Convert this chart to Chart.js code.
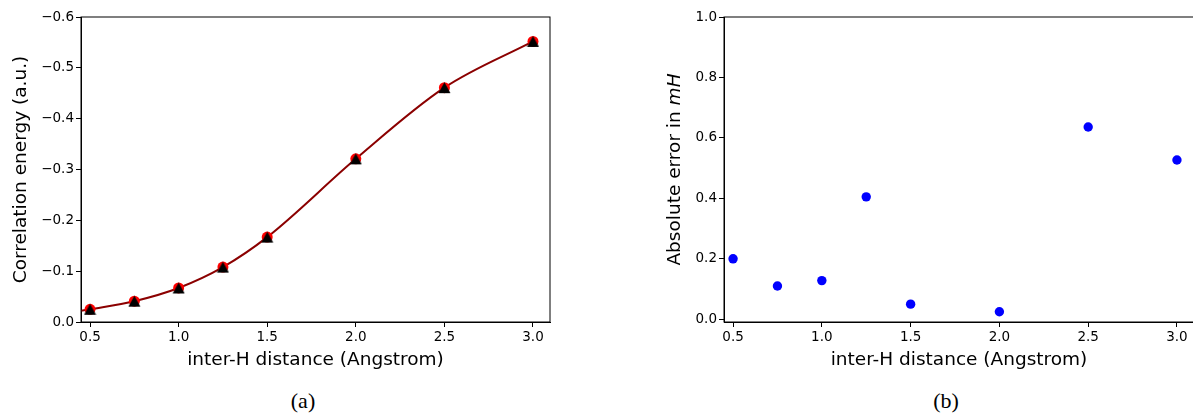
<!DOCTYPE html>
<html>
<head>
<meta charset="utf-8">
<script src="https://cdn.jsdelivr.net/npm/chart.js@4/dist/chart.umd.min.js"></script>
<style>
  html, body { margin: 0; padding: 0; background: #fff; overflow: hidden; }
  body { width: 1193px; height: 414px; position: relative; }
  canvas { position: absolute; top: 0; }
  .cap { position: absolute; top: 388px; font-family: 'Liberation Serif', serif; font-size: 22px; color: #000; transform: translateX(-50%); }
</style>
</head>
<body>
<canvas id="chartA" width="560" height="380" style="left:0"></canvas>
<canvas id="chartB" width="600" height="380" style="left:600px"></canvas>
<div class="cap" style="left:303px">(a)</div>
<div class="cap" style="left:946px">(b)</div>
<script>
// distances (Angstrom)
const distances = [0.5, 0.75, 1.0, 1.25, 1.5, 2.0, 2.5, 3.0];
// correlation energy, reference (red circles) and computed (black triangles)
const energyRef = [-0.025, -0.041, -0.067, -0.108, -0.167, -0.321, -0.461, -0.552];
const energyCalc = [-0.025, -0.041, -0.067, -0.108, -0.167, -0.321, -0.461, -0.552];
// smooth fit curve, starts at left edge of the axes
const curveX = [0.449, 0.5, 0.75, 1.0, 1.25, 1.5, 2.0, 2.5, 3.0];
const curveY = [-0.022, -0.025, -0.041, -0.067, -0.108, -0.167, -0.321, -0.461, -0.552];
// absolute error in mH
const absError = [0.200, 0.110, 0.128, 0.405, 0.050, 0.025, 0.636, 0.527];

const xTicks = [0.5, 1.0, 1.5, 2.0, 2.5, 3.0];
const yTicksA = [0, -0.1, -0.2, -0.3, -0.4, -0.5, -0.6];
const yTicksB = [0, 0.2, 0.4, 0.6, 0.8, 1.0];

const tickFont = { family: 'DejaVu Sans', size: 13.5 };
const titleFont = { family: 'DejaVu Sans', size: 18.5 };
const fmt = v => v.toFixed(1).replace('-', '\u2212');
const pts = (xs, ys) => xs.map((x, i) => ({ x, y: ys[i] }));

// matplotlib-like '^' marker, centred on its bounding box
const tri = document.createElement('canvas');
tri.width = 13; tri.height = 13;
(() => {
  const c = tri.getContext('2d');
  c.fillStyle = '#000';
  c.beginPath();
  c.moveTo(6.5, 1); c.lineTo(12.5, 12); c.lineTo(0.5, 12);
  c.closePath(); c.fill();
})();

// box around the plot area (top/right spines)
const frame = {
  id: 'frame',
  afterDraw(chart) {
    const { ctx, chartArea: a } = chart;
    ctx.save();
    ctx.strokeStyle = '#000';
    ctx.lineWidth = 1;
    ctx.strokeRect(a.left, a.top, a.right - a.left, a.bottom - a.top);
    ctx.restore();
  }
};

function xScale() {
  return {
    type: 'linear', min: 0.449, max: 3.096,
    afterBuildTicks: s => { s.ticks = xTicks.map(v => ({ value: v })); },
    afterFit: s => { s.height = 58; },
    border: { color: '#000', width: 1 },
    grid: { drawOnChartArea: false, color: '#000', tickLength: 5 },
    ticks: { color: '#000', font: tickFont, padding: 2, maxRotation: 0, callback: v => fmt(v) },
    title: { display: true, text: 'inter-H distance (Angstrom)', color: '#000', font: titleFont, padding: { top: 0, bottom: 9 } }
  };
}

new Chart(document.getElementById('chartA'), {
  type: 'scatter',
  data: {
    datasets: [
      { data: pts(distances, energyCalc), pointStyle: tri, pointRadius: 6 },
      { data: pts(distances, energyRef), pointStyle: 'circle', pointRadius: 5.5, backgroundColor: '#ff0000', borderColor: '#ff0000', borderWidth: 0 },
      { type: 'line', data: pts(curveX, curveY), showLine: true, pointRadius: 0, borderColor: '#8b0000', borderWidth: 2, cubicInterpolationMode: 'monotone', fill: false }
    ]
  },
  options: {
    responsive: false, animation: false,
    layout: { padding: { top: 17, right: 10, left: 0, bottom: 0 } },
    plugins: { legend: { display: false }, tooltip: { enabled: false } },
    scales: {
      x: xScale(),
      y: {
        type: 'linear', min: -0.6, max: 0, reverse: true,
        afterBuildTicks: s => { s.ticks = yTicksA.map(v => ({ value: v })); },
        afterFit: s => { s.width = 81; },
        border: { color: '#000', width: 1 },
        grid: { drawOnChartArea: false, color: '#000', tickLength: 5 },
        ticks: { color: '#000', font: tickFont, padding: 2, callback: v => fmt(v) },
        title: { display: true, text: 'Correlation energy (a.u.)', color: '#000', font: titleFont, padding: { top: 10, bottom: 0 } }
      }
    }
  },
  plugins: [frame]
});

// y title with italic unit
const yTitleB = {
  id: 'yTitleB',
  afterDraw(chart) {
    const { ctx, chartArea: a } = chart;
    const normal = '18.5px "DejaVu Sans"';
    const italic = 'italic 18.5px "DejaVu Sans"';
    const t1 = 'Absolute error in ', t2 = 'mH';
    ctx.save();
    ctx.font = normal; const w1 = ctx.measureText(t1).width;
    ctx.font = italic; const w2 = ctx.measureText(t2).width;
    ctx.translate(75.5, (a.top + a.bottom) / 2);
    ctx.rotate(-Math.PI / 2);
    ctx.fillStyle = '#000';
    ctx.textBaseline = 'middle';
    ctx.textAlign = 'left';
    const start = -(w1 + w2) / 2;
    ctx.font = normal; ctx.fillText(t1, start, 0);
    ctx.font = italic; ctx.fillText(t2, start + w1, 0);
    ctx.restore();
  }
};

new Chart(document.getElementById('chartB'), {
  type: 'scatter',
  data: {
    datasets: [
      { data: pts(distances, absError), pointStyle: 'circle', pointRadius: 4.7, backgroundColor: '#0000ff', borderColor: '#0000ff', borderWidth: 0 }
    ]
  },
  options: {
    responsive: false, animation: false,
    layout: { padding: { top: 17, right: 6, left: 0, bottom: 0 } },
    plugins: { legend: { display: false }, tooltip: { enabled: false } },
    scales: {
      x: xScale(),
      y: {
        type: 'linear', min: -0.009, max: 1.0,
        afterBuildTicks: s => { s.ticks = yTicksB.map(v => ({ value: v })); },
        afterFit: s => { s.width = 124; },
        border: { color: '#000', width: 1 },
        grid: { drawOnChartArea: false, color: '#000', tickLength: 5 },
        ticks: { color: '#000', font: tickFont, padding: 2, callback: v => fmt(v) },
        title: { display: false }
      }
    }
  },
  plugins: [frame, yTitleB]
});
</script>
</body>
</html>
